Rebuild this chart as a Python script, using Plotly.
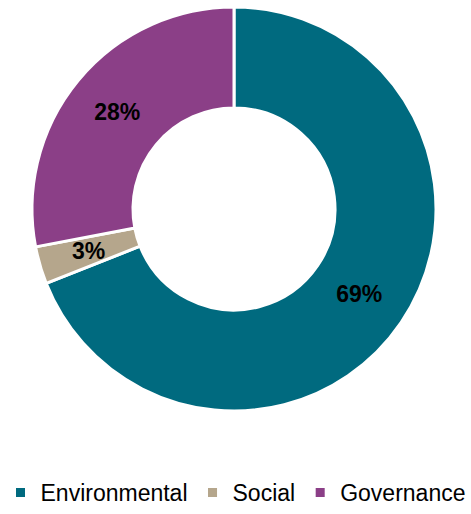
import math
import plotly.graph_objects as go

categories = ["Environmental", "Social", "Governance"]
values = [69, 3, 28]
colors = ["#006A7F", "#B5A68C", "#8B3F87"]

W, H = 471, 514
cx, cy, r = 234, 209, 202
hole = 0.5
font = "Liberation Sans, Arial"

# Slices too thin for Plotly's inside-text fitting get their label as an annotation
small = [v / sum(values) < 0.05 for v in values]
templates = ["" if s else "<b>%{percent:.0%}</b>" for s in small]

fig = go.Figure(go.Pie(
    labels=categories,
    values=values,
    hole=hole,
    sort=False,
    direction="clockwise",
    rotation=0,
    marker=dict(colors=colors, line=dict(color="white", width=3)),
    texttemplate=templates,
    textposition="inside",
    insidetextorientation="horizontal",
    textfont=dict(family=font, size=23, color="black"),
    domain=dict(x=[(cx - r) / W, (cx + r) / W], y=[(H - cy - r) / H, (H - cy + r) / H]),
))

total = sum(values)
cum = 0
for v, s in zip(values, small):
    mid = (cum + v / 2) / total * 2 * math.pi
    cum += v
    if not s:
        continue
    rr = r * (1 + hole) / 2
    px = cx + rr * math.sin(mid)
    py = cy - rr * math.cos(mid)
    fig.add_annotation(
        x=px / W, y=1 - py / H, xref="paper", yref="paper",
        text=f"<b>{round(v / total * 100)}%</b>", showarrow=False,
        font=dict(family=font, size=23, color="black"),
        xanchor="center", yanchor="middle",
    )

fig.update_layout(
    width=W, height=H,
    margin=dict(l=0, r=0, t=0, b=0),
    paper_bgcolor="white",
    plot_bgcolor="white",
    showlegend=True,
    uniformtext=dict(minsize=23, mode="show"),
    legend=dict(
        orientation="h",
        x=0.5, xanchor="center",
        y=0.0, yanchor="bottom",
        font=dict(family=font, size=23, color="black"),
        itemwidth=30,
        tracegroupgap=0,
    ),
)

fig.write_html("out.html")
